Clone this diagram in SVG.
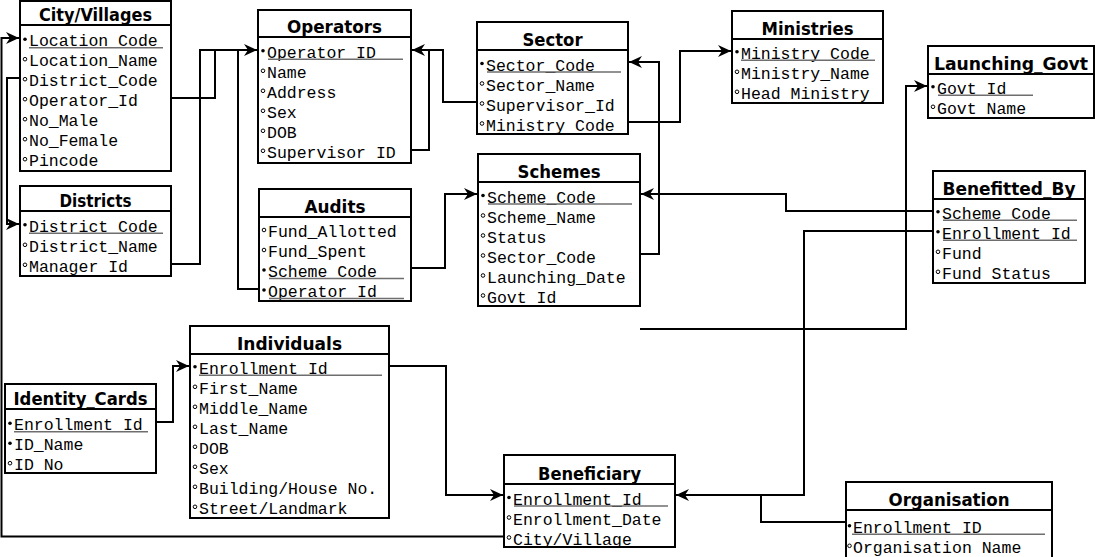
<svg xmlns="http://www.w3.org/2000/svg" width="1095" height="557" viewBox="0 0 1095 557">
<style>
.box{fill:#fff;stroke:#000;stroke-width:2}
.hd{stroke:#000;stroke-width:2}
.t{font-family:"DejaVu Sans Condensed","DejaVu Sans",sans-serif;font-weight:bold;font-size:17.5px;text-anchor:middle;fill:#000}
.f{font-family:"Liberation Mono","Courier New",monospace;font-size:16.5px;fill:#000}
.u{stroke:#6e6e6e;stroke-width:1.6}
.pk{fill:#000}
.nk{fill:none;stroke:#000;stroke-width:1}
.c{fill:none;stroke:#000;stroke-width:2}
</style>
<defs>
<marker id="arr" viewBox="0 0 13 13" refX="13" refY="6.5" markerWidth="13" markerHeight="13" orient="auto" markerUnits="userSpaceOnUse">
<path d="M13,6.5 L0,0.5 L4,6.5 L0,12.5 Z" fill="#000"/>
</marker>
</defs>
<rect width="1095" height="557" fill="#fff"/>

<g id="connectors">
<path class="c" d="M172,98 H215 V50 H257" marker-end="url(#arr)"/>
<path class="c" d="M172,264 H200 V50 H215"/>
<path class="c" d="M258,289 H238 V50"/>
<path class="c" d="M19,78 H7 V224 H19" marker-end="url(#arr)"/>
<path class="c" d="M504,536.5 H1.5 V38 H19" marker-end="url(#arr)"/>
<path class="c" d="M476,102 H443 V50 H412" marker-end="url(#arr)"/>
<path class="c" d="M412,150 H429 V50"/>
<path class="c" d="M629,122 H680 V51 H731" marker-end="url(#arr)"/>
<path class="c" d="M641,254 H659 V62 H629" marker-end="url(#arr)"/>
<path class="c" d="M932,211 H786 V194 H641" marker-end="url(#arr)"/>
<path class="c" d="M932,231 H804 V495 H676" marker-end="url(#arr)"/>
<path class="c" d="M845,522 H761 V495"/>
<path class="c" d="M640,329 H906 V86 H927" marker-end="url(#arr)"/>
<path class="c" d="M390,366 H446 V495 H503" marker-end="url(#arr)"/>
<path class="c" d="M157,422 H173 V366 H189" marker-end="url(#arr)"/>
<path class="c" d="M412,268 H445 V194 H477" marker-end="url(#arr)"/>
</g>

<g id="city_villages">
<rect class="box" x="20" y="1" width="151" height="170"/>
<line class="hd" x1="20" y1="25" x2="171" y2="25"/>
<text class="t" x="95.5" y="20.5" textLength="113" lengthAdjust="spacingAndGlyphs">City/Villages</text>
<circle class="pk" cx="25" cy="39.2" r="1.8"/>
<circle class="nk" cx="25" cy="59.2" r="1.8"/>
<circle class="nk" cx="25" cy="79.2" r="1.8"/>
<circle class="nk" cx="25" cy="99.2" r="1.8"/>
<circle class="nk" cx="25" cy="119.2" r="1.8"/>
<circle class="nk" cx="25" cy="139.2" r="1.8"/>
<circle class="nk" cx="25" cy="159.2" r="1.8"/>
<text class="f" x="29" y="46.2">Location_Code</text>
<line class="u" x1="29" y1="47.7" x2="163" y2="47.7"/>
<text class="f" x="29" y="66.2">Location_Name</text>
<text class="f" x="29" y="86.2">District_Code</text>
<text class="f" x="29" y="106.2">Operator_Id</text>
<text class="f" x="29" y="126.2">No_Male</text>
<text class="f" x="29" y="146.2">No_Female</text>
<text class="f" x="29" y="166.2">Pincode</text>
</g>

<g id="districts">
<rect class="box" x="20" y="186" width="151" height="90"/>
<line class="hd" x1="20" y1="211" x2="171" y2="211"/>
<text class="t" x="95.5" y="206.5" textLength="72" lengthAdjust="spacingAndGlyphs">Districts</text>
<circle class="pk" cx="25" cy="224.8" r="1.8"/>
<circle class="nk" cx="25" cy="244.8" r="1.8"/>
<circle class="nk" cx="25" cy="264.8" r="1.8"/>
<text class="f" x="29" y="231.8">District_Code</text>
<line class="u" x1="29" y1="233.3" x2="163" y2="233.3"/>
<text class="f" x="29" y="251.8">District_Name</text>
<text class="f" x="29" y="271.8">Manager Id</text>
</g>

<g id="operators">
<rect class="box" x="258" y="10" width="153" height="153"/>
<line class="hd" x1="258" y1="37" x2="411" y2="37"/>
<text class="t" x="334.5" y="33" textLength="95" lengthAdjust="spacingAndGlyphs">Operators</text>
<circle class="pk" cx="263" cy="50.8" r="1.8"/>
<circle class="nk" cx="263" cy="70.8" r="1.8"/>
<circle class="nk" cx="263" cy="90.8" r="1.8"/>
<circle class="nk" cx="263" cy="110.8" r="1.8"/>
<circle class="nk" cx="263" cy="130.8" r="1.8"/>
<circle class="nk" cx="263" cy="150.8" r="1.8"/>
<text class="f" x="267" y="57.8">Operator_ID</text>
<line class="u" x1="268" y1="59.3" x2="403" y2="59.3"/>
<text class="f" x="267" y="77.8">Name</text>
<text class="f" x="267" y="97.8">Address</text>
<text class="f" x="267" y="117.8">Sex</text>
<text class="f" x="267" y="137.8">DOB</text>
<text class="f" x="267" y="157.8">Supervisor ID</text>
</g>

<g id="sector">
<rect class="box" x="477" y="22" width="151" height="112"/>
<line class="hd" x1="477" y1="50" x2="628" y2="50"/>
<text class="t" x="552.5" y="45.5" textLength="60" lengthAdjust="spacingAndGlyphs">Sector</text>
<circle class="pk" cx="482" cy="63.5" r="1.8"/>
<circle class="nk" cx="482" cy="83.5" r="1.8"/>
<circle class="nk" cx="482" cy="103.5" r="1.8"/>
<circle class="nk" cx="482" cy="123.5" r="1.8"/>
<text class="f" x="486" y="70.5">Sector_Code</text>
<line class="u" x1="487" y1="72" x2="621" y2="72"/>
<text class="f" x="486" y="90.5">Sector_Name</text>
<text class="f" x="486" y="110.5">Supervisor_Id</text>
<text class="f" x="486" y="130.5">Ministry Code</text>
</g>

<g id="audits">
<rect class="box" x="259" y="189" width="152" height="112"/>
<line class="hd" x1="259" y1="217" x2="411" y2="217"/>
<text class="t" x="335" y="212.5" textLength="61" lengthAdjust="spacingAndGlyphs">Audits</text>
<circle class="nk" cx="264" cy="230" r="1.8"/>
<circle class="nk" cx="264" cy="250" r="1.8"/>
<circle class="pk" cx="264" cy="270" r="1.8"/>
<circle class="pk" cx="264" cy="290" r="1.8"/>
<text class="f" x="268" y="237">Fund_Allotted</text>
<text class="f" x="268" y="257">Fund_Spent</text>
<text class="f" x="268" y="277">Scheme_Code</text>
<line class="u" x1="269" y1="278.5" x2="404" y2="278.5"/>
<text class="f" x="268" y="297">Operator Id</text>
<line class="u" x1="269" y1="298.5" x2="404" y2="298.5"/>
</g>

<g id="schemes">
<rect class="box" x="478" y="154" width="162" height="152"/>
<line class="hd" x1="478" y1="182" x2="640" y2="182"/>
<text class="t" x="559" y="177.5" textLength="83" lengthAdjust="spacingAndGlyphs">Schemes</text>
<circle class="pk" cx="483" cy="195.5" r="1.8"/>
<circle class="nk" cx="483" cy="215.5" r="1.8"/>
<circle class="nk" cx="483" cy="235.5" r="1.8"/>
<circle class="nk" cx="483" cy="255.5" r="1.8"/>
<circle class="nk" cx="483" cy="275.5" r="1.8"/>
<circle class="nk" cx="483" cy="295.5" r="1.8"/>
<text class="f" x="487" y="202.5">Scheme_Code</text>
<line class="u" x1="488" y1="204" x2="632" y2="204"/>
<text class="f" x="487" y="222.5">Scheme_Name</text>
<text class="f" x="487" y="242.5">Status</text>
<text class="f" x="487" y="262.5">Sector_Code</text>
<text class="f" x="487" y="282.5">Launching_Date</text>
<text class="f" x="487" y="302.5">Govt Id</text>
</g>

<g id="ministries">
<rect class="box" x="732" y="11" width="151" height="92"/>
<line class="hd" x1="732" y1="39" x2="883" y2="39"/>
<text class="t" x="807.5" y="34.5" textLength="92" lengthAdjust="spacingAndGlyphs">Ministries</text>
<circle class="pk" cx="737" cy="51.8" r="1.8"/>
<circle class="nk" cx="737" cy="71.8" r="1.8"/>
<circle class="nk" cx="737" cy="91.8" r="1.8"/>
<text class="f" x="741" y="58.8">Ministry_Code</text>
<line class="u" x1="741" y1="60.3" x2="875" y2="60.3"/>
<text class="f" x="741" y="78.8">Ministry_Name</text>
<text class="f" x="741" y="98.8">Head Ministry</text>
</g>

<g id="launching_govt">
<rect class="box" x="928" y="46" width="166" height="72"/>
<line class="hd" x1="928" y1="74" x2="1094" y2="74"/>
<text class="t" x="1011" y="69.5" textLength="154" lengthAdjust="spacingAndGlyphs">Launching_Govt</text>
<circle class="pk" cx="933" cy="86.8" r="1.8"/>
<circle class="nk" cx="933" cy="106.8" r="1.8"/>
<text class="f" x="937" y="93.8">Govt_Id</text>
<line class="u" x1="938" y1="95.3" x2="1033" y2="95.3"/>
<text class="f" x="937" y="113.8">Govt Name</text>
</g>

<g id="benefitted_by">
<rect class="box" x="933" y="171" width="152" height="112"/>
<line class="hd" x1="933" y1="199" x2="1085" y2="199"/>
<text class="t" x="1009" y="194.5" textLength="133" lengthAdjust="spacingAndGlyphs">Benefitted_By</text>
<circle class="pk" cx="938" cy="211.8" r="1.8"/>
<circle class="pk" cx="938" cy="231.8" r="1.8"/>
<circle class="nk" cx="938" cy="251.8" r="1.8"/>
<circle class="nk" cx="938" cy="271.8" r="1.8"/>
<text class="f" x="942" y="218.8">Scheme_Code</text>
<line class="u" x1="943" y1="220.3" x2="1077" y2="220.3"/>
<text class="f" x="942" y="238.8">Enrollment_Id</text>
<line class="u" x1="943" y1="240.3" x2="1077" y2="240.3"/>
<text class="f" x="942" y="258.8">Fund</text>
<text class="f" x="942" y="278.8">Fund Status</text>
</g>

<g id="individuals">
<rect class="box" x="190" y="326" width="199" height="192"/>
<line class="hd" x1="190" y1="354" x2="389" y2="354"/>
<text class="t" x="289.5" y="349.5" textLength="105" lengthAdjust="spacingAndGlyphs">Individuals</text>
<circle class="pk" cx="195" cy="366.8" r="1.8"/>
<circle class="nk" cx="195" cy="386.8" r="1.8"/>
<circle class="nk" cx="195" cy="406.8" r="1.8"/>
<circle class="nk" cx="195" cy="426.8" r="1.8"/>
<circle class="nk" cx="195" cy="446.8" r="1.8"/>
<circle class="nk" cx="195" cy="466.8" r="1.8"/>
<circle class="nk" cx="195" cy="486.8" r="1.8"/>
<circle class="nk" cx="195" cy="506.8" r="1.8"/>
<text class="f" x="199" y="373.8">Enrollment_Id</text>
<line class="u" x1="199" y1="375.3" x2="382" y2="375.3"/>
<text class="f" x="199" y="393.8">First_Name</text>
<text class="f" x="199" y="413.8">Middle_Name</text>
<text class="f" x="199" y="433.8">Last_Name</text>
<text class="f" x="199" y="453.8">DOB</text>
<text class="f" x="199" y="473.8">Sex</text>
<text class="f" x="199" y="493.8">Building/House No.</text>
<text class="f" x="199" y="513.8">Street/Landmark</text>
</g>

<g id="identity_cards">
<rect class="box" x="5" y="384" width="151" height="89"/>
<line class="hd" x1="5" y1="409" x2="156" y2="409"/>
<text class="t" x="80.5" y="404.5" textLength="134" lengthAdjust="spacingAndGlyphs">Identity_Cards</text>
<circle class="pk" cx="10" cy="423.2" r="1.8"/>
<circle class="pk" cx="10" cy="443.2" r="1.8"/>
<circle class="nk" cx="10" cy="463.2" r="1.8"/>
<text class="f" x="14" y="430.2">Enrollment_Id</text>
<line class="u" x1="14" y1="431.7" x2="148" y2="431.7"/>
<text class="f" x="14" y="450.2">ID_Name</text>
<text class="f" x="14" y="470.2">ID No</text>
</g>

<g id="beneficiary">
<rect class="box" x="504" y="455" width="171" height="92"/>
<line class="hd" x1="504" y1="484" x2="675" y2="484"/>
<text class="t" x="589.5" y="479.5" textLength="103" lengthAdjust="spacingAndGlyphs">Beneficiary</text>
<circle class="pk" cx="509" cy="497.5" r="1.8"/>
<circle class="nk" cx="509" cy="517.5" r="1.8"/>
<circle class="nk" cx="509" cy="537.5" r="1.8"/>
<text class="f" x="513" y="504.5">Enrollment_Id</text>
<line class="u" x1="514" y1="506" x2="668" y2="506"/>
<text class="f" x="513" y="524.5">Enrollment_Date</text>
<text class="f" x="513" y="544.5">City/Village</text>
</g>

<g id="organisation">
<rect class="box" x="846" y="482" width="206" height="100"/>
<line class="hd" x1="846" y1="510" x2="1052" y2="510"/>
<text class="t" x="949" y="505.5" textLength="121" lengthAdjust="spacingAndGlyphs">Organisation</text>
<circle class="pk" cx="849.5" cy="525.8" r="1.8"/>
<circle class="nk" cx="849.5" cy="545.8" r="1.8"/>
<text class="f" x="853" y="532.8">Enrollment_ID</text>
<line class="u" x1="852" y1="534.3" x2="1045" y2="534.3"/>
<text class="f" x="853" y="552.8">Organisation Name</text>
</g>
</svg>
